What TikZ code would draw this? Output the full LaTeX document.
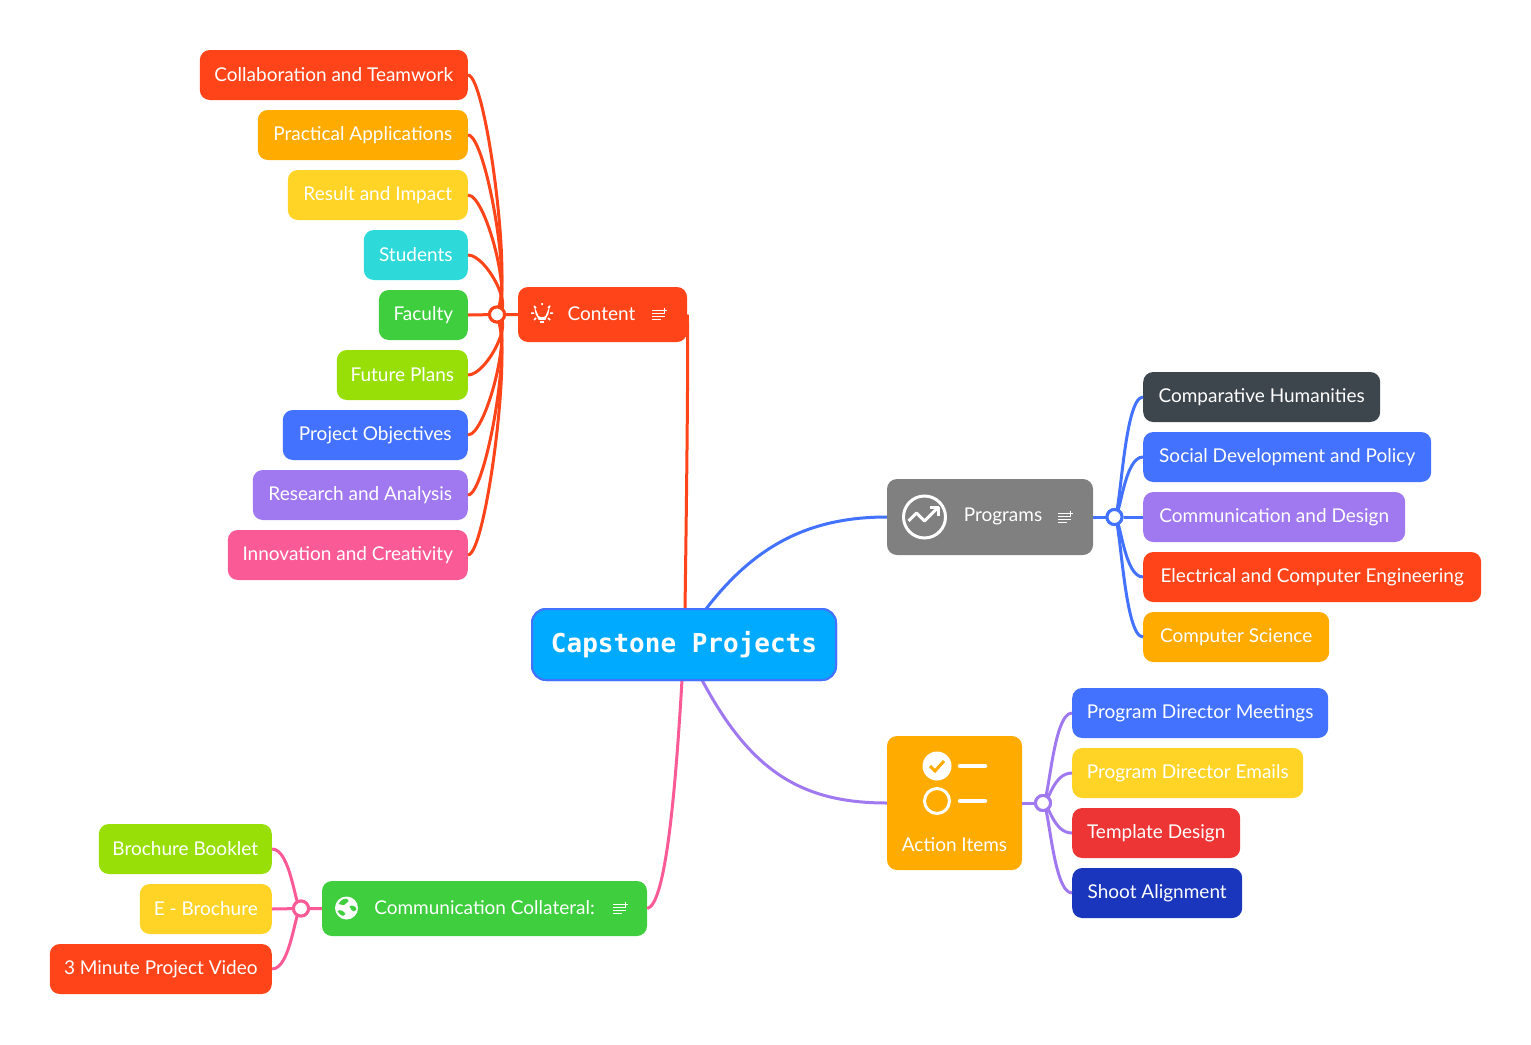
\documentclass[tikz,border=0pt]{standalone}
\usepackage{fontspec}
\setmainfont{Lato}
\newfontfamily\titlefont{DejaVu Sans Mono}
\definecolor{cRed}{HTML}{FF441A}
\definecolor{cAmber}{HTML}{FFAB00}
\definecolor{cYellow}{HTML}{FFD426}
\definecolor{cCyan}{HTML}{2EDAD9}
\definecolor{cGreen}{HTML}{3ECE3E}
\definecolor{cLime}{HTML}{97DF06}
\definecolor{cBlue}{HTML}{4272FF}
\definecolor{cPurple}{HTML}{A078F0}
\definecolor{cPink}{HTML}{FA5A96}
\definecolor{cSlate}{HTML}{3E464D}
\definecolor{cCrimson}{HTML}{EE3535}
\definecolor{cNavy}{HTML}{1A36BC}
\definecolor{cGray}{HTML}{808080}
\definecolor{cSky}{HTML}{00AAFF}
\tikzset{
  topic/.style={rounded corners=10pt, inner sep=0pt, minimum height=50pt, text=white,
    font=\fontsize{19}{23}\selectfont},
  leaf/.style={topic, anchor=east},
  rleaf/.style={topic, anchor=west},
  link/.style={line width=3pt},
  hub/.style={circle, draw, line width=3pt, fill=white, inner sep=0pt, minimum size=15pt},
  noteicon/.pic={
    \draw[white, line width=1.2pt] (-7,-3) -- (3,-3) (-7,0) -- (6,0) (-7,3) -- (6,3) (-7,6) -- (2,6);
    \draw[white, line width=1pt] (5,-6) -- (5,-1) (2.5,-3.5) -- (7.5,-3.5);
  }
}
\begin{document}
\begin{tikzpicture}[x=1pt, y=-1pt]
\useasboundingbox (0,0) rectangle (1531,1044);

% Centro
\node[rounded corners=14pt, draw=cBlue, line width=2pt, fill=cSky, minimum width=304pt, minimum height=71pt,
  text=white, font=\titlefont\bfseries\fontsize{26}{30}\selectfont] (root) at (684,644.5) {Capstone Projects};

% Ramo Content
\node[topic, fill=cRed, minimum width=169pt, minimum height=55pt] (content) at (602.5,314.5) {};
\node[text=white, font=\fontsize{19}{23}\selectfont] (contentlabel) at (601.5,313.5) {Content};
\node[hub, draw=cRed] (contenthub) at (497,314.5) {};

\node[leaf, fill=cRed, minimum width=268pt] (collab) at (468,75) {Collaboration and Teamwork};
\node[leaf, fill=cAmber, minimum width=210pt] (practical) at (468,135) {Practical Applications};
\node[leaf, fill=cYellow, minimum width=180pt] (result) at (468,195) {Result and Impact};
\node[leaf, fill=cCyan, minimum width=104pt] (students) at (468,255) {Students};
\node[leaf, fill=cGreen, minimum width=89pt] (faculty) at (468,315) {Faculty};
\node[leaf, fill=cLime, minimum width=131pt] (future) at (468,375) {Future Plans};
\node[leaf, fill=cBlue, minimum width=185pt] (objectives) at (468,435) {Project Objectives};
\node[leaf, fill=cPurple, minimum width=215pt] (research) at (468,495) {Research and Analysis};
\node[leaf, fill=cPink, minimum width=240pt] (innovation) at (468,555) {Innovation and Creativity};

\begin{scope}[on background layer/.style={}]
\end{scope}
\foreach \leafname/\offx in {collab/-4, practical/-4, result/-4, students/-3, future/-3, objectives/-4, research/-4, innovation/-4}
  \draw[link, cRed] (\leafname.east) .. controls +(19,0) and +(24,0) .. ([xshift=\offx pt]contenthub.center);
\draw[link, cRed] (faculty.east) -- (contenthub) -- (content.west);
\node[hub, draw=cRed] (contenthubtop) at (contenthub) {};

% Ramo Programs
\node[topic, fill=cGray, minimum width=206pt, minimum height=76pt] (programs) at (990,517) {};
\node[text=white, font=\fontsize{19}{23}\selectfont] (programslabel) at (1003,516.5) {Programs};
\node[hub, draw=cBlue] (programshub) at (1114.5,517) {};

\node[rleaf, fill=cSlate, minimum width=237pt] (humanities) at (1143,397) {Comparative Humanities};
\node[rleaf, fill=cBlue, minimum width=288pt] (social) at (1143,457) {Social Development and Policy};
\node[rleaf, fill=cPurple, minimum width=262pt] (commdesign) at (1143,517) {Communication and Design};
\node[rleaf, fill=cRed, minimum width=338pt] (electrical) at (1143,577) {Electrical and Computer Engineering};
\node[rleaf, fill=cAmber, minimum width=186pt] (compsci) at (1143,637) {Computer Science};

\foreach \leafname in {humanities, social, electrical, compsci}
  \draw[link, cBlue] (\leafname.west) .. controls +(-19,0) and +(6,0) .. (programshub.center);
\draw[link, cBlue] (programs.east) -- (programshub) -- (commdesign.west);
\node[hub, draw=cBlue] (programshubtop) at (programshub) {};

% Ramo Action Items
\node[topic, fill=cAmber, minimum width=135pt, minimum height=134pt] (action) at (954.5,803) {};
\node[text=white, font=\fontsize{19}{23}\selectfont] (actionlabel) at (954.5,844.5) {Action Items};
\node[hub, draw=cPurple] (actionhub) at (1043,803) {};

\node[rleaf, fill=cBlue, minimum width=256pt] (meetings) at (1072,713) {Program Director Meetings};
\node[rleaf, fill=cYellow, minimum width=231pt] (emails) at (1072,773) {Program Director Emails};
\node[rleaf, fill=cCrimson, minimum width=168pt] (template) at (1072,833) {Template Design};
\node[rleaf, fill=cNavy, minimum width=170pt] (shoot) at (1072,893) {Shoot Alignment};

\foreach \leafname in {meetings, emails, template, shoot}
  \draw[link, cPurple] (\leafname.west) .. controls +(-19,0) and +(6,0) .. (actionhub.center);
\draw[link, cPurple] (action.east) -- (actionhub);
\node[hub, draw=cPurple] (actionhubtop) at (actionhub) {};

% Ramo Communication Collateral
\node[topic, fill=cGreen, minimum width=325pt, minimum height=55pt] (collateral) at (484.5,908.5) {};
\node[text=white, font=\fontsize{19}{23}\selectfont] (collaterallabel) at (484.5,907.5) {Communication Collateral:};
\node[hub, draw=cPink] (collateralhub) at (301,908.5) {};

\node[leaf, fill=cLime, minimum width=173pt] (booklet) at (272,849) {Brochure Booklet};
\node[leaf, fill=cYellow, minimum width=132pt] (brochure) at (272,909) {E - Brochure};
\node[leaf, fill=cRed, minimum width=222pt] (video) at (272,969) {3 Minute Project Video};

\foreach \leafname in {booklet, video}
  \draw[link, cPink] (\leafname.east) .. controls +(19,0) and +(-6,0) .. (collateralhub.center);
\draw[link, cPink] (brochure.east) -- (collateralhub) -- (collateral.west);
\node[hub, draw=cPink] (collateralhubtop) at (collateralhub) {};

% Ligacoes ao centro
\draw[link, cRed] (content.east) .. controls (688,320) and (688,400) .. (685,609);
\draw[link, cBlue] (programs.west) .. controls (810,517) and (755,545) .. (706,609);
\draw[link, cPurple] (action.west) .. controls (800,803) and (750,770) .. (702,680);
\draw[link, cPink] (collateral.east) .. controls (665,905) and (675,800) .. (682,680);
\node[rounded corners=14pt, draw=cBlue, line width=2pt, fill=cSky, minimum width=304pt, minimum height=71pt,
  text=white, font=\titlefont\bfseries\fontsize{26}{30}\selectfont] (roottop) at (root) {Capstone Projects};

% Icones de nota
\foreach \x/\y in {659/313.5, 1065/516.5, 620/907.5}
  \pic at (\x,\y) {noteicon};

% Lampada
\begin{scope}[shift={(542,314)}, white, line width=1.5pt]
  \draw (-3,5) .. controls (-3,2) and (-6,1) .. (-6,-2) arc[start angle=180, end angle=0, radius=6] .. controls (6,1) and (3,2) .. (3,5) -- cycle;
  \draw (-2,8) -- (2,8);
  \draw (-11,-1) -- (-8,-1) (8,-1) -- (11,-1) (-8,-8) -- (-6,-6) (8,-8) -- (6,-6) (0,-11) -- (0,-9) (-8,6) -- (-6,4) (8,6) -- (6,4);
\end{scope}

% Grafico
\begin{scope}[shift={(924.5,517)}, white]
  \draw[line width=3pt] (0,0) circle (21);
  \draw[line width=3pt, line join=round] (-16,4) -- (-8,-4) -- (0,4) -- (13,-9);
  \draw[line width=3pt, line join=round] (5,-10) -- (14,-10) -- (14,-1);
\end{scope}

% Lista de tarefas
\begin{scope}[shift={(937,766)}, white]
  \fill (0,0) circle (14.5);
  \draw[cAmber, line width=3pt] (-7,0) -- (-2,5) -- (7,-5);
  \draw[line width=3pt] (0,35) circle (12.5);
  \draw[line width=4.5pt, line cap=round] (23,0) -- (48,0) (23,35) -- (48,35);
\end{scope}

% Globo
\begin{scope}[shift={(346.5,908)}]
  \fill[white] (0,0) circle (11.5);
  \fill[cGreen] (-3,-9) .. controls (2,-10) and (4,-7) .. (0,-5) .. controls (-2,-2) and (-5,-3) .. (-8,-4) .. controls (-7,-6) and (-5,-8) .. (-3,-9) -- cycle;
  \fill[cGreen] (3,-2) .. controls (6,-3) and (9,-2) .. (10,1) .. controls (8,4) and (6,4) .. (5,2) -- cycle;
  \fill[cGreen] (-9,3) .. controls (-6,1) and (-3,3) .. (-1,6) .. controls (-3,9) and (-6,8) .. (-9,3) -- cycle;
\end{scope}

\end{tikzpicture}
\end{document}
